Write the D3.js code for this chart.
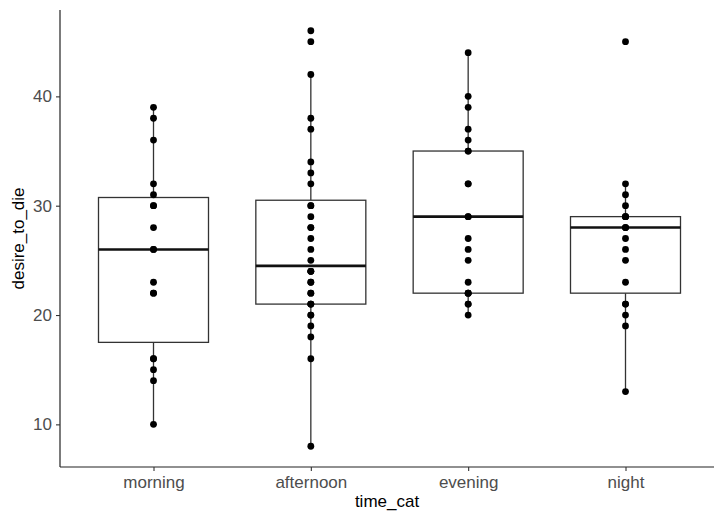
<!DOCTYPE html>
<html>
<head>
<meta charset="utf-8">
<script src="https://cdn.jsdelivr.net/npm/d3@7"></script>
<style>
  body { margin: 0; background: #fff; }
  text { font-family: "Liberation Sans", Arial, sans-serif; }
</style>
</head>
<body>
<div id="chart"></div>
<script>
// categories and the values (duplicates overlap)
var categories = ["morning", "afternoon", "evening", "night"];
var morning = [10, 14, 15, 16, 16, 22, 22, 23, 26, 26, 28, 30, 30, 31, 32, 36, 38, 39];
var afternoon = [8, 16, 18, 19, 20, 20, 21, 21, 21, 22, 22, 23, 23, 24, 24, 24,
                 25, 26, 27, 28, 28, 29, 30, 30, 32, 33, 34, 37, 38, 42, 45, 46];
var evening = [20, 21, 21, 22, 22, 22, 23, 25, 26, 27, 29, 29, 32, 32, 35, 35, 36, 37, 39, 40, 44];
var night = [13, 19, 20, 21, 21, 23, 25, 26, 27, 28, 28, 28, 29, 29, 29, 30, 31, 32, 45];
var yTicks = [10, 20, 30, 40];

var groups = [
  {name: "morning", values: morning},
  {name: "afternoon", values: afternoon},
  {name: "evening", values: evening},
  {name: "night", values: night}
];

var W = 715, H = 512;
var svg = d3.select("#chart").append("svg")
  .attr("width", W).attr("height", H);

// plot panel edges (note: "top" is reserved on window, so use other names)
var pLeft = 60, pBottom = 467, pTop = 10, pRight = 714;

// y range with ggplot-like 5% expansion
var allVals = [].concat(morning, afternoon, evening, night);
var ext = d3.extent(allVals);
var pad = (ext[1] - ext[0]) * 0.05;
var y = d3.scaleLinear()
  .domain([ext[0] - pad, ext[1] + pad])
  .range([pBottom, pTop]);

var x = d3.scalePoint()
  .domain(categories)
  .range([153.5, 625.5]);
var boxW = 110;

// box stats
groups.forEach(function(g) {
  var s = g.values.slice().sort(d3.ascending);
  g.q1 = d3.quantile(s, 0.25);
  g.med = d3.quantile(s, 0.5);
  g.q3 = d3.quantile(s, 0.75);
  var iqr = g.q3 - g.q1;
  g.lo = d3.min(s.filter(function(v) { return v >= g.q1 - 1.5 * iqr; }));
  g.hi = d3.max(s.filter(function(v) { return v <= g.q3 + 1.5 * iqr; }));
});

var plot = svg.append("g");
var boxes = plot.selectAll(".box").data(groups).enter().append("g");

// whiskers
boxes.append("line")
  .attr("x1", function(d) { return x(d.name); })
  .attr("x2", function(d) { return x(d.name); })
  .attr("y1", function(d) { return y(d.hi); })
  .attr("y2", function(d) { return y(d.q3); })
  .attr("stroke", "#333").attr("stroke-width", 1.3);
boxes.append("line")
  .attr("x1", function(d) { return x(d.name); })
  .attr("x2", function(d) { return x(d.name); })
  .attr("y1", function(d) { return y(d.q1); })
  .attr("y2", function(d) { return y(d.lo); })
  .attr("stroke", "#333").attr("stroke-width", 1.3);

// box
boxes.append("rect")
  .attr("x", function(d) { return x(d.name) - boxW / 2; })
  .attr("y", function(d) { return y(d.q3); })
  .attr("width", boxW)
  .attr("height", function(d) { return y(d.q1) - y(d.q3); })
  .attr("fill", "#fff")
  .attr("stroke", "#333").attr("stroke-width", 1.3);

// median
boxes.append("line")
  .attr("x1", function(d) { return x(d.name) - boxW / 2; })
  .attr("x2", function(d) { return x(d.name) + boxW / 2; })
  .attr("y1", function(d) { return y(d.med); })
  .attr("y2", function(d) { return y(d.med); })
  .attr("stroke", "#111").attr("stroke-width", 2.6);

// points
boxes.selectAll("circle")
  .data(function(d) { return d.values.map(function(v) { return {name: d.name, v: v}; }); })
  .enter().append("circle")
  .attr("cx", function(d) { return x(d.name); })
  .attr("cy", function(d) { return y(d.v); })
  .attr("r", 3.4)
  .attr("fill", "#000");

// axes
var yAxis = svg.append("g")
  .attr("transform", "translate(" + pLeft + ",0)")
  .call(d3.axisLeft(y).tickValues(yTicks).tickSize(4).tickPadding(4));
yAxis.select(".domain").attr("d", "M0," + pTop + "V" + pBottom).attr("stroke", "#222").attr("stroke-width", 1.2);

var xAxis = svg.append("g")
  .attr("transform", "translate(0," + pBottom + ")")
  .call(d3.axisBottom(x).tickSize(4).tickPadding(5));
xAxis.select(".domain").attr("d", "M" + pLeft + ",0H" + pRight).attr("stroke", "#222").attr("stroke-width", 1.2);

svg.selectAll(".tick line").attr("stroke", "#333").attr("stroke-width", 1.1);
svg.selectAll(".tick text")
  .attr("fill", "#4d4d4d")
  .style("font-size", "17px")
  .style("font-family", "'Liberation Sans', Arial, sans-serif");

// axis titles
svg.append("text")
  .attr("x", (pLeft + pRight) / 2)
  .attr("y", 507)
  .attr("text-anchor", "middle")
  .style("font-size", "17px")
  .attr("fill", "#000")
  .text("time_cat");

svg.append("text")
  .attr("transform", "translate(24," + ((pTop + pBottom) / 2) + ") rotate(-90)")
  .attr("text-anchor", "middle")
  .style("font-size", "17px")
  .attr("fill", "#000")
  .text("desire_to_die");
</script>
</body>
</html>
